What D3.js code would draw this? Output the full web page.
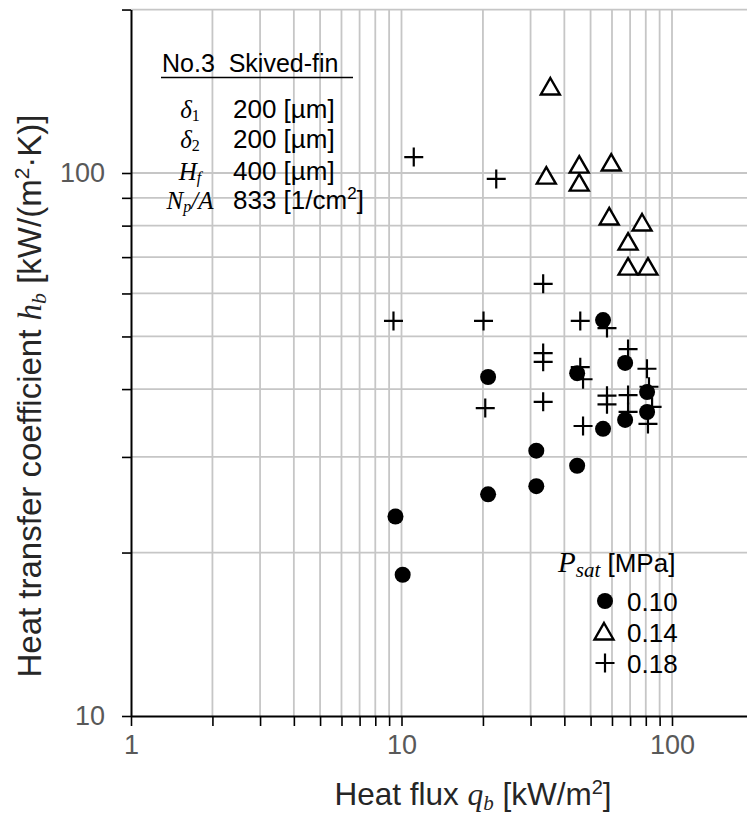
<!DOCTYPE html>
<html>
<head>
<meta charset="utf-8">
<script src="https://cdn.jsdelivr.net/npm/d3@7/dist/d3.min.js"></script>
<style>
  html, body { margin: 0; padding: 0; background: #fff; }
  svg { display: block; }
  text { white-space: pre; }
</style>
</head>
<body>
<div id="chart"></div>
<script>
// Boiling curve, No.3 skived-fin surface: h_b vs q_b at three saturation pressures

// P_sat = 0.10 MPa
const q010 = [9.5, 10.1, 20.9, 20.9, 31.5, 31.5, 44.6, 44.6, 55.6, 55.6, 67.1, 67.1, 80.9, 80.9];
const h010 = [23.3, 18.2, 25.6, 42.1, 30.8, 26.5, 28.9, 42.8, 53.6, 33.8, 44.7, 35.1, 39.5, 36.3];

// P_sat = 0.14 MPa
const q014 = [35.5, 34.3, 45.4, 45.4, 59.6, 58.6, 77.5, 68.8, 68.8, 81.5];
const h014 = [144.0, 98.7, 103.4, 95.8, 104.3, 83.0, 80.9, 74.6, 67.1, 67.1];

// P_sat = 0.18 MPa
const q018 = [11.1, 22.4, 33.4, 9.34, 20.1, 45.8, 57.5, 33.4, 33.4, 68.8, 45.8, 46.9,
              80.8, 20.4, 33.4, 57.5, 57.5, 68.8, 82.2, 84.4, 81.5, 46.9, 68.8];
const h018 = [107.0, 97.5, 62.5, 53.4, 53.4, 53.4, 51.8, 46.6, 44.9, 47.4, 43.9, 41.7,
              43.6, 36.9, 37.9, 38.9, 37.5, 39.0, 40.4, 37.1, 34.5, 34.2, 36.3];

// Axis ticks / gridlines
const xTickValues = [1, 2, 3, 4, 5, 6, 7, 8, 9, 10, 20, 30, 40, 50, 60, 70, 80, 90, 100, 200];
const xTickLabels = [1, 10, 100];
const yTickValues = [10, 20, 30, 40, 50, 60, 70, 80, 90, 100, 200];
const yTickLabels = [10, 100];

// Legend
const legendLabels = ["0.10", "0.14", "0.18"];

// Surface specification rows
const specNames = [["δ", "1", ""], ["δ", "2", ""], ["H", "f", ""], ["N", "p", "/A"]];
const specValues = ["200 [µm]", "200 [µm]", "400 [µm]", "833 [1/cm"];

const W = 747, H = 814;
const sans = "'Liberation Sans', Arial, sans-serif";
const serif = "'Liberation Serif', 'DejaVu Serif', serif";

const svg = d3.select("#chart").append("svg")
  .attr("width", W).attr("height", H);

const x0 = 131, y0 = 716, decX = 270.5, decY = 543;
const x = d3.scaleLog().domain([1, 200]).range([x0, x0 + Math.log10(200) * decX]);
const y = d3.scaleLog().domain([10, 200]).range([y0, y0 - Math.log10(20) * decY]);

// gridlines
const grid = svg.append("g").attr("stroke", "#c6c6c6").attr("stroke-width", 1.8);
grid.selectAll("line.v").data(xTickValues.filter(d => d > 1)).join("line")
  .attr("class", "v")
  .attr("x1", d => x(d)).attr("x2", d => x(d))
  .attr("y1", y(10)).attr("y2", y(200));
grid.selectAll("line.h").data(yTickValues.filter(d => d > 10)).join("line")
  .attr("class", "h")
  .attr("x1", x(1)).attr("x2", x(200))
  .attr("y1", d => y(d)).attr("y2", d => y(d));

// axes
const xAxis = d3.axisBottom(x).tickValues(xTickValues).tickSizeInner(10).tickSizeOuter(0)
  .tickPadding(9).tickFormat(d => xTickLabels.includes(d) ? String(d) : "");
const yAxis = d3.axisLeft(y).tickValues(yTickValues).tickSizeInner(9).tickSizeOuter(0)
  .tickPadding(17).tickFormat(d => yTickLabels.includes(d) ? String(d) : "");

function styleAxis(g) {
  g.select(".domain").attr("stroke", "#000").attr("stroke-width", 2);
  g.selectAll(".tick line").attr("stroke", "#000").attr("stroke-width", 1.6);
  g.selectAll(".tick text").attr("fill", "#595959")
    .style("font-family", sans).style("font-size", "27px");
}
svg.append("g").attr("transform", `translate(0,${y0})`).call(xAxis).call(styleAxis);
svg.append("g").attr("transform", `translate(${x0},0)`).call(yAxis).call(styleAxis);

// markers
const pts010 = q010.map((q, i) => ({ q, h: h010[i] }));
const pts014 = q014.map((q, i) => ({ q, h: h014[i] }));
const pts018 = q018.map((q, i) => ({ q, h: h018[i] }));

const triPath = "M0,-9L9.5,7.5L-9.5,7.5Z";
const plusPath = "M-9.5,0H9.5M0,-9.5V9.5";

function drawCircle(sel) { sel.attr("r", 8).attr("fill", "#000"); }
function drawTri(sel) { sel.attr("d", triPath).attr("fill", "#fff").attr("stroke", "#000").attr("stroke-width", 2.4); }
function drawPlus(sel) { sel.attr("d", plusPath).attr("fill", "none").attr("stroke", "#000").attr("stroke-width", 2.2); }

const marks = svg.append("g");
marks.selectAll("circle").data(pts010).join("circle")
  .attr("cx", d => x(d.q)).attr("cy", d => y(d.h)).call(drawCircle);
marks.selectAll("path.tri").data(pts014).join("path").attr("class", "tri")
  .attr("transform", d => `translate(${x(d.q)},${y(d.h)})`).call(drawTri);
marks.selectAll("path.plus").data(pts018).join("path").attr("class", "plus")
  .attr("transform", d => `translate(${x(d.q)},${y(d.h)})`).call(drawPlus);

// axis titles
const xt = svg.append("text").attr("x", 473).attr("y", 805).attr("text-anchor", "middle")
  .attr("fill", "#262626").style("font-family", sans).style("font-size", "31.5px");
xt.append("tspan").text("Heat flux ");
xt.append("tspan").style("font-family", serif).style("font-style", "italic").text("q");
xt.append("tspan").style("font-family", serif).style("font-style", "italic").style("font-size", "21px").attr("dy", 5).text("b");
xt.append("tspan").attr("dy", -5).text(" [kW/m");
xt.append("tspan").style("font-size", "20px").attr("dy", -11).text("2");
xt.append("tspan").attr("dy", 11).text("]");

const yt = svg.append("text").attr("transform", "translate(41,396) rotate(-90)").attr("text-anchor", "middle")
  .attr("fill", "#262626").style("font-family", sans).style("font-size", "33px");
yt.append("tspan").text("Heat transfer coefficient ");
yt.append("tspan").style("font-family", serif).style("font-style", "italic").text("h");
yt.append("tspan").style("font-family", serif).style("font-style", "italic").style("font-size", "22px").attr("dy", 5).text("b");
yt.append("tspan").attr("dy", -5).text(" [kW/(m");
yt.append("tspan").style("font-size", "21px").attr("dy", -12).text("2");
yt.append("tspan").attr("dy", 12).text("·K)]");

// specification block
const spec = svg.append("g");
spec.append("text").attr("x", 162).attr("y", 72).attr("fill", "#000")
  .style("font-family", sans).style("font-size", "25px").text("No.3  Skived-fin");
spec.append("line").attr("x1", 161).attr("x2", 353).attr("y1", 77.5).attr("y2", 77.5)
  .attr("stroke", "#000").attr("stroke-width", 1.5);

const rowY = [118, 148, 180, 209];
specNames.forEach((nm, i) => {
  const t = spec.append("text").attr("x", 190).attr("y", rowY[i]).attr("text-anchor", "middle")
    .attr("fill", "#000").style("font-family", serif).style("font-style", "italic").style("font-size", "25px");
  t.append("tspan").text(nm[0]);
  t.append("tspan").style("font-size", "16px").style("font-style", i < 2 ? "normal" : "italic").attr("dy", 3).text(nm[1]);
  if (nm[2]) t.append("tspan").attr("dy", -3).text(nm[2]);
});
specValues.forEach((v, i) => {
  const t = spec.append("text").attr("x", 233).attr("y", rowY[i]).attr("fill", "#000")
    .style("font-family", sans).style("font-size", "26px");
  t.append("tspan").text(v);
  if (i === 3) {
    t.append("tspan").style("font-size", "17px").attr("dy", -10).text("2");
    t.append("tspan").attr("dy", 10).text("]");
  }
});

// legend
const lg = svg.append("g");
const lt = lg.append("text").attr("x", 558).attr("y", 572).attr("fill", "#000")
  .style("font-family", sans).style("font-size", "26px");
lt.append("tspan").style("font-family", serif).style("font-style", "italic").style("font-size", "29px").text("P");
lt.append("tspan").style("font-family", serif).style("font-style", "italic").style("font-size", "21px").attr("dy", 5).text("sat");
lt.append("tspan").attr("dy", -5).text(" [MPa]");

const legY = [601, 632, 663];
lg.append("circle").attr("cx", 605).attr("cy", legY[0]).call(drawCircle);
lg.append("path").attr("transform", `translate(604,${legY[1]})`).call(drawTri);
lg.append("path").attr("transform", `translate(605,${legY[2]})`).call(drawPlus);
legendLabels.forEach((s, i) => {
  lg.append("text").attr("x", 627).attr("y", legY[i] + 9.5).attr("fill", "#000")
    .style("font-family", sans).style("font-size", "26px").text(s);
});
</script>
</body>
</html>
